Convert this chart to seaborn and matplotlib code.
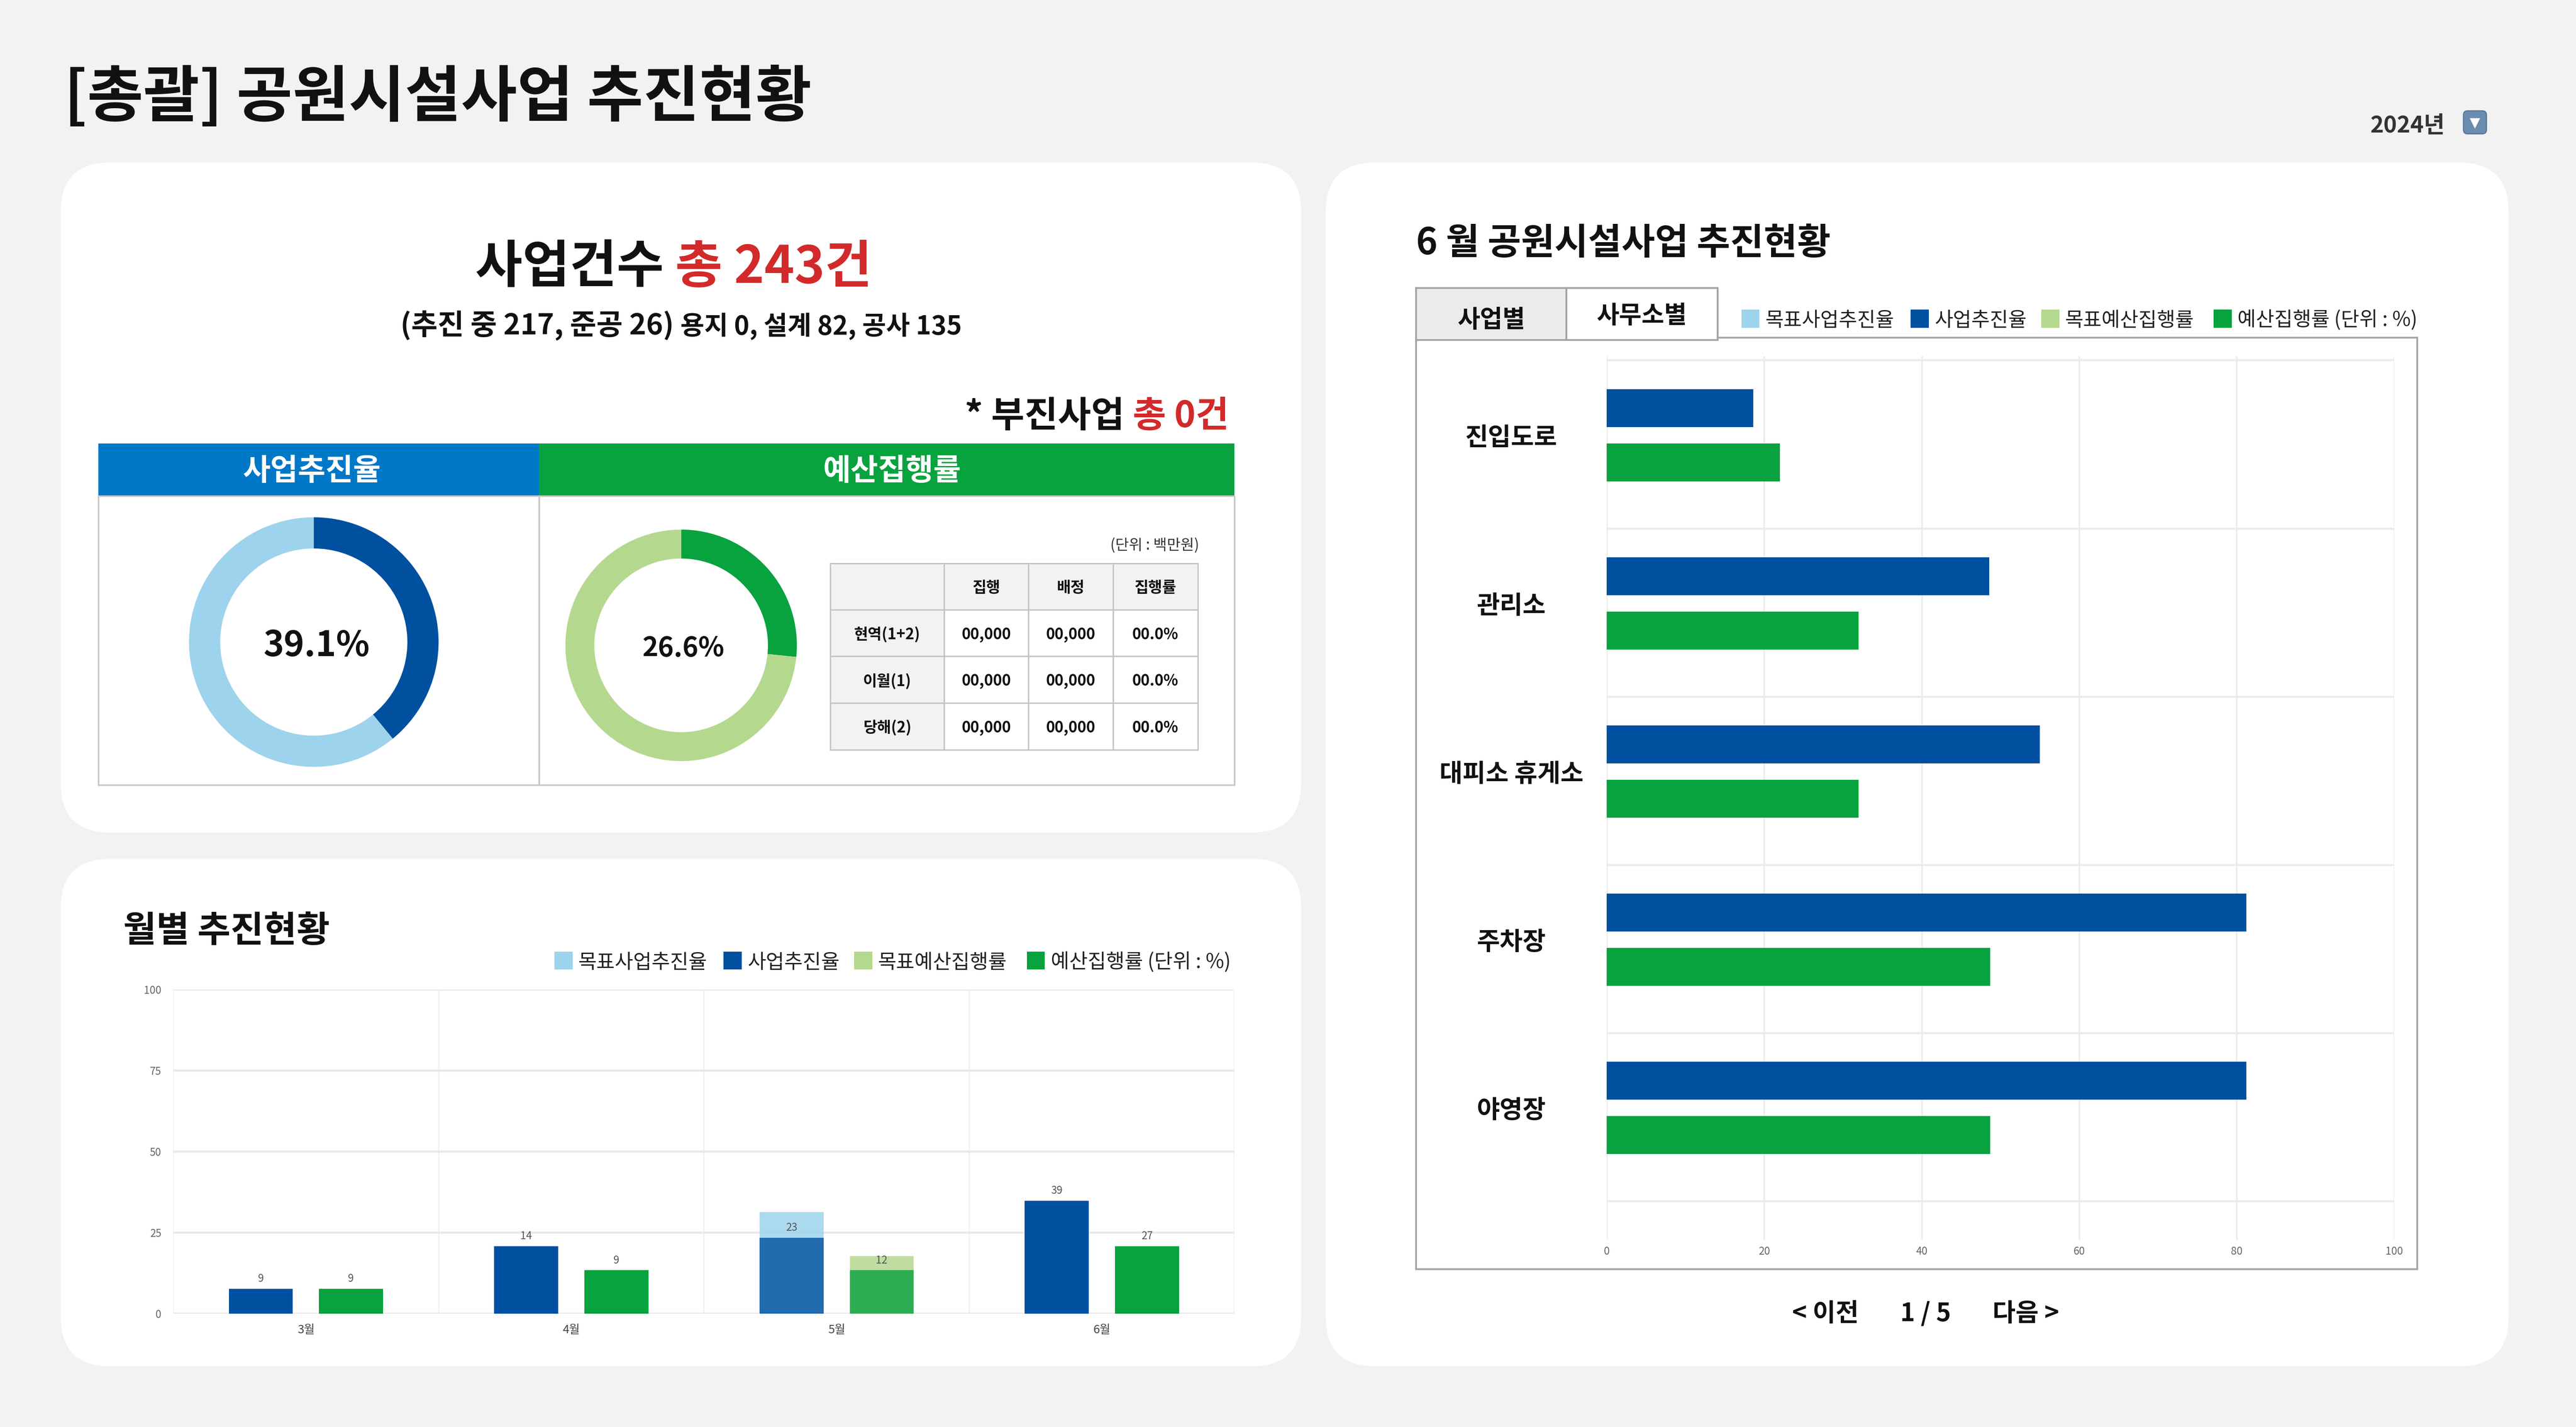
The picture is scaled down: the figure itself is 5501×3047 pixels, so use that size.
import matplotlib
matplotlib.use("Agg")
import matplotlib.pyplot as plt
from matplotlib.patches import FancyBboxPatch, Rectangle
import seaborn as sns
import pandas as pd

# ---- data ----
months = ["3월", "4월", "5월", "6월"]
progress = [7.7, 20.8, 23.4, 34.8]           # 사업추진율 (bar height)
budget = [7.7, 13.4, 13.4, 20.8]             # 예산집행률 (bar height)
progress_target = [None, None, 31.4, None]   # 목표사업추진율
budget_target = [None, None, 17.8, None]     # 목표예산집행률
progress_labels = ["9", "14", "23", "39"]
budget_labels = ["9", "9", "12", "27"]

facilities = ["진입도로", "관리소", "대피소 휴게소", "주차장", "야영장"]
fac_progress = [18.6, 48.6, 55.0, 81.2, 81.2]
fac_budget = [22.0, 32.0, 32.0, 48.7, 48.7]

progress_rate = 39.1
budget_rate = 26.6

table_cols = ["", "집행", "배정", "집행률"]
table_rows = ["현역(1+2)", "이월(1)", "당해(2)"]
table_vals = [["00,000", "00,000", "00.0%"],
              ["00,000", "00,000", "00.0%"],
              ["00,000", "00,000", "00.0%"]]

n_total, n_ongoing, n_done = 243, 217, 26
n_land, n_design, n_build = 0, 82, 135
n_lagging = 0

series_names = ["사업추진율", "예산집행률"]
legend_labels = ["목표사업추진율", "사업추진율", "목표예산집행률", "예산집행률 (단위 : %)"]

BLUE = "#0050a0"
LBLUE = "#9dd3ec"
GREEN = "#08a23e"
LGREEN = "#b5d88f"
HEAD_BLUE = "#0078c8"
RED = "#d22a2a"

# ---- figure / layout helpers (layout units = 1568 x 869) ----
W, H = 1568, 869
sns.set_theme(style="white")
plt.rcParams["font.family"] = ["Noto Sans CJK KR", "DejaVu Sans"]
plt.rcParams["axes.unicode_minus"] = False

fig = plt.figure(figsize=(5501 / 350, 3047 / 350), dpi=350)
fig.patch.set_facecolor("#f2f2f2")
bg = fig.add_axes([0, 0, 1, 1])
bg.set_xlim(0, W)
bg.set_ylim(H, 0)
bg.axis("off")
bg.set_zorder(0)
renderer = fig.canvas.get_renderer()


def add_ax(x0, y0, x1, y1):
    a = fig.add_axes([x0 / W, 1 - y1 / H, (x1 - x0) / W, (y1 - y0) / H])
    a.set_zorder(1)
    return a


def panel(x0, y0, x1, y1, r=30):
    bg.add_patch(FancyBboxPatch((x0, y0), x1 - x0, y1 - y0,
                                boxstyle=f"round,pad=0,rounding_size={r}",
                                fc="white", ec="none"))


def rect(x0, y0, x1, y1, fc="none", ec="none", lw=0.7):
    bg.add_patch(Rectangle((x0, y0), x1 - x0, y1 - y0, fc=fc, ec=ec, lw=lw))


def rich_text(x, y, parts, ha="center", weight="bold"):
    texts, cur = [], 0
    for s, color, size in parts:
        t = bg.text(x + cur, y, s, color=color, fontsize=size, fontweight=weight,
                    ha="left", va="baseline")
        cur += t.get_window_extent(renderer).width * W / fig.bbox.width
        texts.append(t)
    shift = -cur / 2 if ha == "center" else (-cur if ha == "right" else 0)
    for t in texts:
        t.set_x(t.get_position()[0] + shift)


def legend_row(xs, y, colors, labels):
    for x, c, lab in zip(xs, colors, labels):
        rect(x, y - 5.5, x + 11, y + 5.5, fc=c)
        bg.text(x + 14.5, y + 1.3, lab, fontsize=8.8, color="#222", ha="left", va="center")


# ---- title and year selector ----
bg.text(39, 60, "[총괄] 공원시설사업 추진현황", fontsize=26.8, fontweight="bold",
        color="#111", ha="left", va="center")
bg.text(1488, 76.5, "2024년", fontsize=10, fontweight="bold", color="#333",
        ha="right", va="center")
bg.add_patch(FancyBboxPatch((1499.5, 67.5), 14, 14, boxstyle="round,pad=0,rounding_size=2.5",
                            fc="#6a8cae", ec="#56789a", lw=0.5))
bg.text(1506.5, 75, "▼", fontsize=6, color="white", ha="center", va="center",
        family="DejaVu Sans")

# ---- panels ----
panel(37, 99, 792, 507)
panel(37, 523, 792, 832)
panel(807, 99, 1527, 832)

# ---- top-left summary ----
rich_text(410, 172, [("사업건수 ", "#111", 22.5), (f"총 {n_total}건", RED, 22.5)])
rich_text(414.5, 203.5, [(f"(추진 중 {n_ongoing}, 준공 {n_done}) ", "#111", 12.6),
                         (f"용지 {n_land}, 설계 {n_design}, 공사 {n_build}", "#111", 11.4)])
rich_text(748, 260, [("* 부진사업 ", "#111", 15.9), (f"총 {n_lagging}건", RED, 15.9)], ha="right")

rect(60, 270, 328, 302, fc=HEAD_BLUE)
rect(328, 270, 751.5, 302, fc=GREEN)
bg.text(190, 287, "사업추진율", fontsize=13.2, fontweight="bold", color="white", ha="center", va="center")
bg.text(543, 287, "예산집행률", fontsize=13.2, fontweight="bold", color="white", ha="center", va="center")
rect(60, 302, 328, 478, ec="#c8c8c8", lw=0.7)
rect(328, 302, 751.5, 478, ec="#c8c8c8", lw=0.7)

# donuts
for (cx, cy, r, val, c1, c2, fs) in [(191, 391, 76, progress_rate, BLUE, LBLUE, 15.3),
                                     (414.6, 393, 70.5, budget_rate, GREEN, LGREEN, 11.8)]:
    dax = add_ax(cx - r, cy - r, cx + r, cy + r)
    dax.pie([val, 100 - val], colors=[c1, c2], startangle=90, counterclock=False,
            wedgeprops=dict(width=0.25, linewidth=0))
    dax.set_xlim(-1, 1)
    dax.set_ylim(-1, 1)
    dax.set_aspect("equal")
    dax.patch.set_alpha(0)
    dax.text(0.02, -0.03, f"{val}%", fontsize=fs, fontweight="bold", color="#111",
             ha="center", va="center")

# table
bg.text(730, 332, "(단위 : 백만원)", fontsize=6.5, color="#333", ha="right", va="center")
col_edges = [505.5, 574.7, 626, 677.6, 729]
row_edges = [343, 371.4, 399.6, 428.2, 456.5]
table = [table_cols] + [[name] + vals for name, vals in zip(table_rows, table_vals)]
for i, row in enumerate(table):
    for j, s in enumerate(row):
        fc = "#f2f2f2" if (i == 0 or j == 0) else "white"
        rect(col_edges[j], row_edges[i], col_edges[j + 1], row_edges[i + 1], fc=fc, ec="#c4c4c4", lw=0.6)
        bg.text((col_edges[j] + col_edges[j + 1]) / 2, (row_edges[i] + row_edges[i + 1]) / 2 + 1, s,
                fontsize=6.7, fontweight="bold", color="#111", ha="center", va="center")

# ---- bottom-left monthly chart ----
bg.text(75, 567, "월별 추진현황", fontsize=15.8, fontweight="bold", color="#111",
        ha="left", va="center")
legend_row([337.5, 440.5, 520, 625], 585, [LBLUE, BLUE, LGREEN, GREEN], legend_labels)

df_target = pd.DataFrame({"month": months * 2,
                          "series": [series_names[0]] * 4 + [series_names[1]] * 4,
                          "value": progress_target + budget_target}).dropna()
df_actual = pd.DataFrame({"month": months * 2,
                          "series": [series_names[0]] * 4 + [series_names[1]] * 4,
                          "value": progress + budget})

ax1 = add_ax(105.5, 602.5, 751.5, 800)
sns.barplot(data=df_target, x="month", y="value", hue="series", order=months,
            hue_order=series_names, palette=[LBLUE, LGREEN], saturation=1,
            width=0.68, gap=0.29, linewidth=0, legend=False, ax=ax1)
n_target = len(ax1.containers)
sns.barplot(data=df_actual, x="month", y="value", hue="series", order=months,
            hue_order=series_names, palette=[BLUE, GREEN], saturation=1,
            width=0.68, gap=0.29, linewidth=0, legend=False, ax=ax1)
for cont in ax1.containers[:n_target]:
    for p in cont:
        p.set_alpha(0.85)
actual_conts = ax1.containers[n_target:]
for cont, labels in zip(actual_conts, [progress_labels, budget_labels]):
    cont.patches[months.index("5월")].set_alpha(0.8)
    ax1.bar_label(cont, labels=labels, padding=2, fontsize=4.6, color="#555")
ax1.set_ylim(0, 100)
ax1.set_xlim(-0.5, len(months) - 0.5)
ax1.set_yticks([0, 25, 50, 75, 100])
ax1.grid(axis="y", color="#e8e8e8", lw=0.9)
for k in range(len(months) + 1):
    ax1.axvline(k - 0.5, color="#efefef", lw=0.5, zorder=0)
ax1.set_axisbelow(True)
ax1.set_xlabel("")
ax1.set_ylabel("")
ax1.tick_params(axis="y", length=0, pad=5.3, labelsize=4.6, labelcolor="#666")
ax1.tick_params(axis="x", length=0, pad=4.5, labelsize=5.2, labelcolor="#444")
for s in ax1.spines.values():
    s.set_visible(False)

# ---- right panel: facility chart ----
bg.text(862, 148.5, "6 월 공원시설사업 추진현황", fontsize=16, fontweight="bold",
        color="#111", ha="left", va="center")
rect(862, 205.5, 1471.5, 773, fc="white", ec="#a6a6a6", lw=0.8)
rect(862, 175.5, 953.5, 207, fc="#ebebeb", ec="#a6a6a6", lw=0.8)
rect(953.5, 175.5, 1045.5, 207, fc="white", ec="#a6a6a6", lw=0.8)
bg.text(907.8, 195, "사업별", fontsize=10.8, fontweight="bold", color="#111", ha="center", va="center")
bg.text(999.5, 192.5, "사무소별", fontsize=10.8, fontweight="bold", color="#111", ha="center", va="center")
legend_row([1060, 1163, 1242.5, 1347.5], 194, [LBLUE, BLUE, LGREEN, GREEN], legend_labels)

df_fac = pd.DataFrame({"facility": facilities * 2,
                       "series": [series_names[0]] * 5 + [series_names[1]] * 5,
                       "value": fac_progress + fac_budget})
ax2 = add_ax(978, 217, 1457.3, 755)
sns.barplot(data=df_fac, y="facility", x="value", hue="series", order=facilities,
            hue_order=series_names, palette=[BLUE, GREEN], saturation=1, orient="h",
            width=0.645, gap=0.3, linewidth=0, legend=False, ax=ax2)
ax2.set_xlim(0, 100)
ax2.set_ylim(len(facilities) - 0.215, -0.469)
ax2.set_xticks([0, 20, 40, 60, 80, 100])
ax2.grid(axis="x", color="#ebebeb", lw=0.7)
for k in range(len(facilities) + 1):
    ax2.axhline(k - 0.445, color="#ebebeb", lw=0.9, zorder=0)
ax2.set_axisbelow(True)
ax2.set_xlabel("")
ax2.set_ylabel("")
ax2.tick_params(axis="x", length=0, pad=2.8, labelsize=4.6, labelcolor="#666")
ax2.tick_params(axis="y", length=0, pad=41.9, labelsize=11)
for lbl in ax2.get_yticklabels():
    lbl.set_ha("center")
    lbl.set_fontweight("bold")
    lbl.set_color("#111")
for s in ax2.spines.values():
    s.set_visible(False)

# pagination
for x, s in [(1111, "< 이전"), (1172, "1 / 5"), (1233, "다음 >")]:
    bg.text(x, 800, s, fontsize=11, fontweight="bold", color="#111", ha="center", va="center")

fig.savefig("out.png", dpi=350, facecolor=fig.get_facecolor())
